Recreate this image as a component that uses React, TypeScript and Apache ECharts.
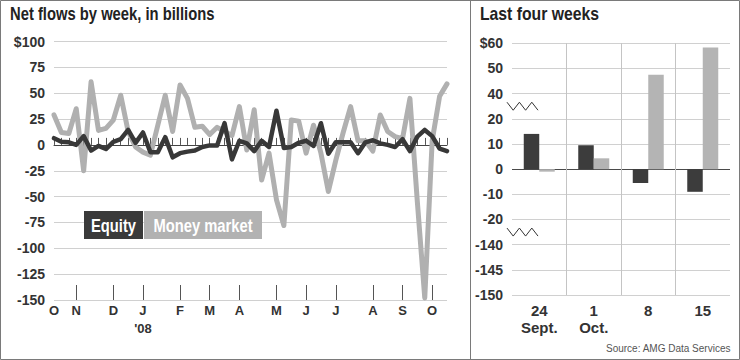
import React, { useEffect, useRef } from 'react';
import * as echarts from 'echarts';

const SANS = '"Liberation Sans", Arial, Helvetica, sans-serif';
const NARROW_SCALE = 0.82; // Liberation Sans squeezed to look like a condensed face

// Weekly net flows, billions of dollars (week ending Oct 17 2007 ... Oct 15 2008)
const equity = [
  6.5, 3, 2.5, 0, 8.5, -5.5, -1, -4, 3, 5.5,
  14.5, 2, 12, -7, -7, 7.5, -12, -8, -6.5, -5.5,
  -2, -0.5, -0.5, 21, -14, 4, 1.5, -6, 4, -2,
  33, -3, -2, 2, 4, -1, 21, -8.5, 2.5, 2.5,
  2.5, -8, 2.5, 4.5, 1.5, 0, -2, 5.5, -6, 8,
  14.5, 8.5, -3.5, -6,
];
const moneyMarket = [
  29, 12, 11, 35, -25, 61, 14, 16, 24, 48,
  13, -2, -7, -10, 19, 48, 13, 58, 45, 17,
  18, 10, 17, 13, 9, 37, -5, 34, -34, -8,
  -53, -78, 24, 23, -8, 19, -8, -45, -15, 12,
  37, 4, 4, -6, 29, 13, 8, 6, 45, -55,
  -148, 4, 47, 59,
];
const weeks = equity.map((_, i) => {
  const d = new Date(2007, 9, 17 + 7 * i);
  return `${d.getFullYear()}-${d.getMonth() + 1}-${d.getDate()}`;
});
const monthStarts = [0, 3, 8, 12, 17, 21, 25, 30, 34, 38, 43, 47, 51];
const monthLabels = ['O', 'N', 'D', 'J', 'F', 'M', 'A', 'M', 'J', 'J', 'A', 'S', 'O'];
const yearLabel = "'08";
const yearLabelAt = 12;

// Last four weeks
const lastDays = ['24', '1', '8', '15'];
const lastMonths = ['Sept.', 'Oct.', '', ''];
const lastEquity = [14, 9.5, -5.5, -9];
const lastMoney = [-1, 4.3, 47.5, 58.3];
const rightTickValues = [-150, -145, -140, -20, -10, 0, 10, 20, 40, 50, 60];
const rightTickLabels = ['-150', '-145', '-140', '-20', '-10', '0', '10', '20', '40', '50', '$60'];
const ZERO_SLOT = rightTickValues.indexOf(0);

// broken axis: map a value to its evenly spaced tick slot (0 sits at slot 0)
function toSlot(v: number): number {
  const t = rightTickValues;
  for (let k = 0; k < t.length - 1; k++) {
    if (v <= t[k + 1] || k === t.length - 2) {
      return k + (v - t[k]) / (t[k + 1] - t[k]) - ZERO_SLOT;
    }
  }
  return 0;
}

const EQ_COLOR = '#383838';
const MM_COLOR = '#b0b0b0';
const GRID_COLOR = '#d0d0d0';
const ZERO_COLOR = '#4a4a4a';

export default function App() {
  const ref = useRef<HTMLDivElement>(null);
  useEffect(() => {
    document.body.style.margin = '0';
    const chart = echarts.init(ref.current!, null, { renderer: 'svg' });
    const leftSplitColors = [-150, -125, -100, -75, -50, -25, 0, 25, 50, 75, 100].map((v) =>
      v === 0 ? ZERO_COLOR : GRID_COLOR
    );
    const rightSplitColors = rightTickValues.map((v) => (v === 0 ? ZERO_COLOR : GRID_COLOR));
    const option: any = {
      animation: false,
      backgroundColor: '#fff',
      title: [
        {
          text: 'Source: AMG Data Services',
          right: 9,
          top: 343,
          padding: 0,
          textStyle: { fontFamily: SANS, fontSize: 10, fontWeight: 'normal', color: '#555' },
        },
      ],
      grid: [
        { left: 54, right: 293, top: 41.5, bottom: 60 },
        { left: 512, right: 10, top: 43.3, bottom: 65 },
      ],
      xAxis: [
        {
          type: 'category',
          gridIndex: 0,
          position: 'bottom',
          boundaryGap: false,
          data: weeks,
          axisLine: { show: true, lineStyle: { color: '#444', width: 1 } },
          axisTick: { show: true, inside: true, length: 7, interval: 0, lineStyle: { color: '#555', width: 1 } },
          axisLabel: {
            show: true,
            interval: (i: number) => monthStarts.includes(i),
            formatter: (_v: string, i: number) => {
              const k = monthStarts.indexOf(i);
              if (k < 0) return '';
              return i === yearLabelAt ? `${monthLabels[k]}\n${yearLabel}` : monthLabels[k];
            },
            fontFamily: SANS,
            fontSize: 13,
            fontWeight: 'bold',
            color: '#333',
            lineHeight: 18,
            margin: 1,
          },
          splitLine: { show: false },
        },
        {
          type: 'category',
          gridIndex: 0,
          position: 'bottom',
          boundaryGap: false,
          data: weeks,
          axisLine: { show: false },
          axisTick: {
            show: true,
            inside: true,
            length: 15,
            interval: (i: number) => monthStarts.includes(i) && i > 0,
            lineStyle: { color: '#555', width: 1 },
          },
          axisLabel: { show: false },
          splitLine: { show: false },
        },
        {
          type: 'category',
          gridIndex: 1,
          position: 'bottom',
          data: lastDays.map((d, i) => (lastMonths[i] ? `${d}\n${lastMonths[i]}` : d)),
          axisLine: { show: false },
          axisTick: { show: false },
          axisLabel: {
            interval: 0,
            fontFamily: SANS,
            fontSize: 15,
            fontWeight: 'bold',
            color: '#333',
            lineHeight: 17,
            margin: 7,
          },
          splitLine: {
            show: true,
            interval: 0,
            showMinLine: false,
            showMaxLine: false,
            lineStyle: { color: '#c4c4c4', width: 1 },
          },
        },
      ],
      yAxis: [
        {
          type: 'value',
          gridIndex: 0,
          min: -150,
          max: 100,
          interval: 25,
          axisLine: { show: false },
          axisTick: { show: false },
          axisLabel: {
            formatter: (v: number) => (v === 100 ? `$${v}` : String(v)),
            fontFamily: SANS,
            fontSize: 14,
            fontWeight: 'bold',
            color: '#333',
            margin: 9,
          },
          splitLine: { show: true, lineStyle: { color: leftSplitColors, width: 1 } },
        },
        {
          type: 'value',
          gridIndex: 1,
          min: -ZERO_SLOT,
          max: rightTickValues.length - 1 - ZERO_SLOT,
          interval: 1,
          axisLine: { show: false },
          axisTick: { show: false },
          axisLabel: {
            formatter: (v: number) => rightTickLabels[Math.round(v) + ZERO_SLOT] ?? '',
            fontFamily: SANS,
            fontSize: 14,
            fontWeight: 'bold',
            color: '#333',
            margin: 9,
          },
          splitLine: { show: true, lineStyle: { color: rightSplitColors, width: 1 } },
        },
      ],
      series: [
        {
          name: 'Money market',
          type: 'line',
          xAxisIndex: 0,
          yAxisIndex: 0,
          data: moneyMarket,
          symbol: 'none',
          lineStyle: { color: MM_COLOR, width: 5, cap: 'round', join: 'round' },
          z: 2,
        },
        {
          name: 'Equity',
          type: 'line',
          xAxisIndex: 0,
          yAxisIndex: 0,
          data: equity,
          symbol: 'none',
          lineStyle: { color: EQ_COLOR, width: 4.5, cap: 'round', join: 'round' },
          z: 3,
        },
        {
          name: 'Equity (last four weeks)',
          type: 'bar',
          xAxisIndex: 2,
          yAxisIndex: 1,
          data: lastEquity.map(toSlot),
          barWidth: 15.5,
          barGap: '0%',
          itemStyle: { color: '#3c3c3c' },
        },
        {
          name: 'Money market (last four weeks)',
          type: 'bar',
          xAxisIndex: 2,
          yAxisIndex: 1,
          data: lastMoney.map(toSlot),
          barWidth: 15.5,
          barGap: '0%',
          itemStyle: { color: '#b4b4b4' },
        },
      ],
    };
    chart.setOption(option);

    const breakUpper = chart.convertToPixel({ yAxisIndex: 1 } as any, (toSlot(40) + toSlot(20)) / 2) as number;
    const breakLower = chart.convertToPixel({ yAxisIndex: 1 } as any, (toSlot(-20) + toSlot(-140)) / 2) as number;
    const zig = (yc: number) => {
      const pts: number[][] = [];
      for (let k = 0; k < 6; k++) pts.push([507 + k * 6.2, k % 2 === 0 ? yc - 4 : yc + 4]);
      return pts;
    };
    const narrowText = (
      text: string, x: number, y: number, size: number, fill: string,
      align: string, vAlign: string, scale: number = NARROW_SCALE
    ) => ({
      type: 'text',
      x,
      y,
      scaleX: scale,
      style: {
        text,
        fill,
        fontFamily: SANS,
        fontSize: size,
        fontWeight: 'bold',
        align,
        verticalAlign: vAlign,
      },
      z: 11,
    });

    chart.setOption({
      graphic: [
        {
          type: 'rect',
          shape: { x: 0.5, y: 0.5, width: 739, height: 359 },
          style: { fill: 'none', stroke: '#7a7a7a', lineWidth: 1 },
          z: 10,
        },
        {
          type: 'line',
          shape: { x1: 470.5, y1: 0, x2: 470.5, y2: 360 },
          style: { stroke: '#7a7a7a', lineWidth: 1 },
          z: 10,
        },
        narrowText('Net flows by week, in billions', 10, 5, 17.5, '#222', 'left', 'top', 0.845),
        narrowText('Last four weeks', 480, 5, 17.5, '#222', 'left', 'top', 0.9),
        {
          type: 'rect',
          shape: { x: 84, y: 211, width: 59, height: 28 },
          style: { fill: '#3a3a3a' },
          z: 10,
        },
        {
          type: 'rect',
          shape: { x: 144, y: 211, width: 118, height: 28 },
          style: { fill: '#b2b2b2' },
          z: 10,
        },
        narrowText('Equity', 113.5, 225.5, 18, '#fff', 'center', 'middle'),
        narrowText('Money market', 203, 225.5, 18, '#fff', 'center', 'middle'),
        {
          type: 'polyline',
          shape: { points: zig(breakUpper) },
          style: { stroke: '#333', lineWidth: 1, fill: 'none' },
          z: 11,
        },
        {
          type: 'polyline',
          shape: { points: zig(breakLower) },
          style: { stroke: '#333', lineWidth: 1, fill: 'none' },
          z: 11,
        },
      ],
    });
    return () => chart.dispose();
  }, []);
  return <div ref={ref} style={{ width: 740, height: 360 }} />;
}
